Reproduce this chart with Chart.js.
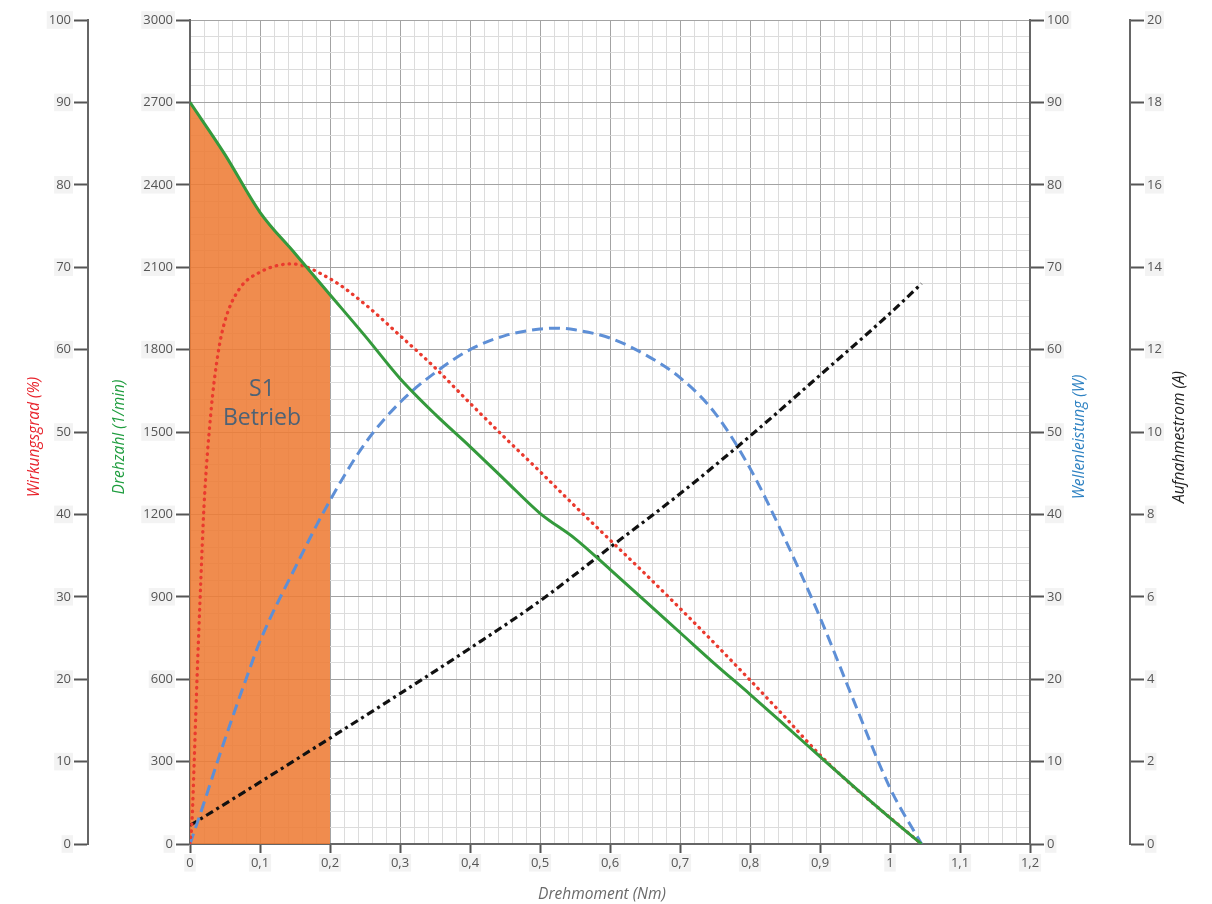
<!DOCTYPE html>
<html>
<head>
<meta charset="utf-8">
<title>Motorkennlinie</title>
<script src="https://cdn.jsdelivr.net/npm/chart.js@4.4.1/dist/chart.umd.min.js"></script>
<style>
  html, body { margin: 0; padding: 0; background: #ffffff; }
  #wrap { width: 1212px; height: 904px; }
</style>
</head>
<body>
<div id="wrap"><canvas id="chart" width="1212" height="904"></canvas></div>
<script>
// Drehzahl (1/min) über Drehmoment (Nm)
const speedTorque = [0, 0.05, 0.1, 0.15, 0.2, 0.25, 0.3, 0.35, 0.4, 0.45, 0.5, 0.55, 0.6, 0.65, 0.7, 0.75, 0.8, 0.85, 0.9, 0.95, 1.0, 1.045];
const speedRpm    = [2700, 2510, 2300, 2150, 2000, 1850, 1695, 1565, 1447, 1325, 1204, 1112, 1000, 885, 770, 655, 545, 432, 318, 205, 95, 0];

// Wirkungsgrad (%)
const effTorque = [0, 0.003, 0.006, 0.01, 0.015, 0.02, 0.03, 0.04, 0.05, 0.07, 0.1, 0.145, 0.2, 0.25, 0.3, 0.35, 0.4, 0.45, 0.5, 0.55, 0.6, 0.65, 0.7, 0.75, 0.8, 0.85, 0.9, 0.95, 1.0, 1.045];
const effPct    = [0, 3, 10, 20, 31, 41, 52.5, 59.5, 63.5, 67.3, 69.4, 70.4, 68.6, 65.5, 61.7, 57.8, 53.5, 49.3, 45.2, 41, 36.9, 32.8, 28.6, 24.3, 19.9, 15.4, 10.8, 6.8, 3.2, 0];

// Wellenleistung (W)
const powerTorque = [0, 0.02, 0.04, 0.06, 0.08, 0.1, 0.15, 0.2, 0.25, 0.3, 0.35, 0.4, 0.45, 0.5, 0.525, 0.55, 0.6, 0.65, 0.7, 0.75, 0.8, 0.85, 0.9, 0.95, 1.0, 1.045];
const powerW      = [0, 5, 10.2, 15.2, 20, 24.6, 33.5, 41.7, 48.6, 53.6, 57.2, 60, 61.7, 62.5, 62.6, 62.4, 61.4, 59.4, 56.6, 52.3, 45.6, 37, 27.5, 17, 6.8, 0];

// Aufnahmestrom (A)
const currentTorque = [0, 0.1, 0.2, 0.3, 0.4, 0.5, 0.6, 0.7, 0.8, 0.9, 1.0, 1.045];
const currentA      = [0.45, 1.5, 2.57, 3.65, 4.75, 5.9, 7.2, 8.5, 9.9, 11.38, 12.88, 13.6];

// Dauerbetriebsbereich S1 (bis Drehmoment in Nm)
const s1Limit = 0.2;
const s1Label = ['S1', 'Betrieb'];

// Achsenbeschriftungen
const titleX = 'Drehmoment (Nm)';
const titleEff = 'Wirkungsgrad (%)';
const titleSpeed = 'Drehzahl (1/min)';
const titlePower = 'Wellenleistung (W)';
const titleCurrent = 'Aufnahmestrom (A)';

const pts = (xs, ys) => xs.map((x, i) => ({ x, y: ys[i] }));
const s1Points = pts(speedTorque, speedRpm).filter(p => p.x <= s1Limit + 1e-9);

const FONT = '"Open Sans", "Noto Sans", sans-serif';
const tickFont = { family: FONT, size: 13 };
const TITLE_FONT = 'italic 15.5px ' + FONT;
const LABEL = '#555555';
const AXIS = '#666666';
const MAJOR = '#a3a3a3';
const MINOR = '#dcdcdc';

const isMult = (v, step) => Math.abs(v / step - Math.round(v / step)) < 1e-6;
const fmt = v => {
  const r = Math.round(v * 10) / 10;
  return String(r).replace('.', ',');
};

// Achsentitel (von unten nach oben gelesen) und S1-Beschriftung
const annotate = {
  id: 'annotate',
  afterDatasetsDraw(chart) {
    const { ctx, scales } = chart;
    const cx = scales.x.getPixelForValue(s1Limit / 2);
    const cy = scales.yN.getPixelForValue(1600);
    ctx.save();
    ctx.font = '23px ' + FONT;
    ctx.fillStyle = '#4e6275';
    ctx.textAlign = 'center';
    ctx.textBaseline = 'middle';
    ctx.fillText(s1Label[0], cx + 2, cy - 15);
    ctx.fillText(s1Label[1], cx + 2, cy + 14);
    ctx.restore();
  },
  afterDraw(chart) {
    const { ctx, scales, chartArea } = chart;
    const midY = (chartArea.top + chartArea.bottom) / 2 + 5;
    const vTitle = (text, x, color) => {
      ctx.save();
      ctx.translate(x, midY);
      ctx.rotate(-Math.PI / 2);
      ctx.font = TITLE_FONT;
      ctx.fillStyle = color;
      ctx.textAlign = 'center';
      ctx.textBaseline = 'middle';
      ctx.fillText(text, 0, 0);
      ctx.restore();
    };
    vTitle(titleEff, scales.yW.left + 35, '#e8232c');
    vTitle(titleSpeed, scales.yN.left + 32, '#1f9d3f');
    vTitle(titlePower, scales.yP.left + 50, '#2f82c2');
    vTitle(titleCurrent, scales.yA.left + 50, '#222222');
    ctx.save();
    ctx.font = TITLE_FONT;
    ctx.fillStyle = '#6a6a6a';
    ctx.textAlign = 'center';
    ctx.textBaseline = 'middle';
    ctx.fillText(titleX, (chartArea.left + chartArea.right) / 2 - 8, 895);
    ctx.restore();
  }
};

const sideAxis = (position, max, step, weight, width) => ({
  type: 'linear',
  position,
  weight,
  min: 0,
  max,
  afterFit: s => { s.width = width; },
  ticks: {
    stepSize: step,
    autoSkip: false,
    color: LABEL,
    font: tickFont,
    padding: 3,
    showLabelBackdrop: true,
    backdropColor: '#f3f3f3',
    backdropPadding: { top: 1, bottom: 1, left: 2, right: 2 }
  },
  grid: {
    drawOnChartArea: false,
    drawTicks: true,
    tickLength: 14,
    tickColor: '#555555',
    tickWidth: 2
  },
  border: { display: true, color: AXIS, width: 2 }
});

new Chart(document.getElementById('chart'), {
  type: 'line',
  data: {
    datasets: [
      {
        label: 'S1 Betrieb',
        data: s1Points,
        yAxisID: 'yN',
        borderWidth: 0,
        backgroundColor: 'rgba(238,124,54,0.88)',
        fill: 'origin',
        pointRadius: 0,
        cubicInterpolationMode: 'monotone',
        order: 10
      },
      {
        label: titleSpeed,
        data: pts(speedTorque, speedRpm),
        yAxisID: 'yN',
        borderColor: '#349a3c',
        borderWidth: 3,
        pointRadius: 0,
        fill: false,
        cubicInterpolationMode: 'monotone',
        order: 1
      },
      {
        label: titleEff,
        data: pts(effTorque, effPct),
        yAxisID: 'yW',
        borderColor: '#ea3a2e',
        borderWidth: 3.3,
        borderDash: [0.5, 6],
        borderCapStyle: 'round',
        pointRadius: 0,
        fill: false,
        cubicInterpolationMode: 'monotone',
        order: 2
      },
      {
        label: titlePower,
        data: pts(powerTorque, powerW),
        yAxisID: 'yP',
        borderColor: '#5e8fd6',
        borderWidth: 3,
        borderDash: [11, 6],
        pointRadius: 0,
        fill: false,
        cubicInterpolationMode: 'monotone',
        order: 3
      },
      {
        label: titleCurrent,
        data: pts(currentTorque, currentA),
        yAxisID: 'yA',
        borderColor: '#111111',
        borderWidth: 3.2,
        borderDash: [8, 4, 3, 4],
        pointRadius: 0,
        fill: false,
        cubicInterpolationMode: 'monotone',
        order: 4
      }
    ]
  },
  options: {
    responsive: false,
    animation: false,
    devicePixelRatio: 1,
    layout: { padding: { top: 20, left: 0, right: 0, bottom: 0 } },
    plugins: {
      legend: { display: false },
      tooltip: { enabled: false },
      title: { display: false }
    },
    scales: {
      x: {
        type: 'linear',
        position: 'bottom',
        min: 0,
        max: 1.2,
        afterFit: s => { s.height = 60; },
        ticks: {
          stepSize: 0.02,
          autoSkip: false,
          maxRotation: 0,
          color: LABEL,
          font: tickFont,
          padding: 2,
          callback: v => isMult(v, 0.1) ? fmt(v) : '',
          showLabelBackdrop: c => isMult(c.tick.value, 0.1),
          backdropColor: '#f3f3f3',
          backdropPadding: { top: 1, bottom: 1, left: 2, right: 2 }
        },
        grid: {
          color: c => isMult(c.tick.value, 0.1) ? MAJOR : MINOR,
          lineWidth: 1,
          drawTicks: true,
          tickLength: 9,
          tickColor: c => isMult(c.tick.value, 0.1) ? '#555555' : 'rgba(0,0,0,0)',
          tickWidth: 2
        },
        border: { display: true, color: AXIS, width: 2 }
      },
      yN: {
        type: 'linear',
        position: 'left',
        weight: 0,
        min: 0,
        max: 3000,
        afterFit: s => { s.width = 102; },
        ticks: {
          stepSize: 60,
          autoSkip: false,
          color: LABEL,
          font: tickFont,
          padding: 3,
          callback: v => isMult(v, 300) ? String(v) : '',
          showLabelBackdrop: c => isMult(c.tick.value, 300),
          backdropColor: '#f3f3f3',
          backdropPadding: { top: 1, bottom: 1, left: 2, right: 2 }
        },
        grid: {
          color: c => isMult(c.tick.value, 300) ? MAJOR : MINOR,
          lineWidth: 1,
          drawTicks: true,
          tickLength: 14,
          tickColor: c => isMult(c.tick.value, 300) ? '#555555' : 'rgba(0,0,0,0)',
          tickWidth: 2
        },
        border: { display: true, color: AXIS, width: 2 }
      },
      yW: sideAxis('left', 100, 10, 1, 88),
      yP: sideAxis('right', 100, 10, 0, 100),
      yA: sideAxis('right', 20, 2, 1, 82)
    }
  },
  plugins: [annotate]
});
</script>
</body>
</html>
